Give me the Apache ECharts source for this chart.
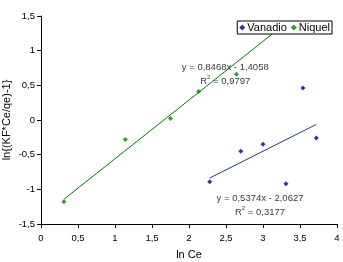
<!DOCTYPE html>
<html>
<head>
<meta charset="utf-8">
<script src="https://cdn.jsdelivr.net/npm/echarts@6/dist/echarts.min.js"></script>
<style>
  html, body { margin: 0; padding: 0; background: #fff; }
  #chart { width: 343px; height: 262px; }
</style>
</head>
<body>
<div id="chart"></div>
<script>
// data
var vanadioX = [2.28, 2.70, 3.00, 3.31, 3.54, 3.72];
var vanadioY = [-0.89, -0.45, -0.35, -0.92, 0.46, -0.26];
var niquelX = [0.31, 1.14, 1.75, 2.13, 2.64];
var niquelY = [-1.18, -0.28, 0.02, 0.41, 0.66];

// trendline equations as printed on the chart: [slope, intercept, r2, xStart, xEnd]
var vanadioFit = [0.5374, -2.0627, 0.3177, 2.28, 3.72];
var niquelFit = [0.8468, -1.4058, 0.9797, 0.31, 3.2];

var xTicks = [0, 4, 0.5];
var yTicks = [-1.5, 1.5, 0.5];

function pairs(xs, ys) {
  var out = [];
  for (var i = 0; i < xs.length; i++) out.push([xs[i], ys[i]]);
  return out;
}
function fitLine(f) {
  return [[f[3], f[0] * f[3] + f[1]], [f[4], f[0] * f[4] + f[1]]];
}
function comma(v) {
  return String(v).replace('.', ',');
}
function eqText(f) {
  var s = f[1] < 0 ? ' - ' : ' + ';
  return 'y = ' + comma(f[0].toFixed(4)) + 'x' + s + comma(Math.abs(f[1]).toFixed(4)) +
    '\n{r|R}{s|2}{r| = ' + comma(f[2].toFixed(4)) + '}';
}

var font = 'Liberation Sans, Arial, sans-serif';
var eqStyle = {
  show: true,
  fontFamily: font,
  fontSize: 9.5,
  color: '#000',
  lineHeight: 14,
  align: 'center',
  rich: {
    r: { fontFamily: font, fontSize: 9.5, color: '#000' },
    s: { fontFamily: font, fontSize: 6, color: '#000', verticalAlign: 'top', padding: [0, 0, 5, 0] }
  }
};

var myChart = echarts.init(document.getElementById('chart'));

var option = {
  backgroundColor: '#fff',
  animation: false,
  grid: { left: 41, right: 6, top: 16, bottom: 38, outerBoundsMode: 'none', containLabel: false },
  legend: {
    data: ['Vanadio', 'Niquel'],
    right: 11,
    top: 21,
    orient: 'horizontal',
    itemWidth: 6,
    itemHeight: 6,
    itemGap: 4,
    padding: [1, 2, 1, 2],
    borderColor: '#000',
    borderWidth: 1,
    backgroundColor: '#fff',
    z: 10,
    textStyle: { fontFamily: font, fontSize: 11, color: '#000', padding: [0, 0, 0, -3] }
  },
  xAxis: {
    type: 'value',
    min: xTicks[0],
    max: xTicks[1],
    interval: xTicks[2],
    name: 'ln Ce',
    nameLocation: 'middle',
    nameGap: 25,
    nameMoveOverlap: false,
    nameTextStyle: { fontFamily: font, fontSize: 11, color: '#000' },
    axisLine: { onZero: false, lineStyle: { color: '#000', width: 1 } },
    axisTick: { show: true, length: 4, lineStyle: { color: '#000' } },
    axisLabel: { fontFamily: font, fontSize: 9.5, color: '#000', margin: 9, formatter: comma },
    splitLine: { show: false }
  },
  yAxis: {
    type: 'value',
    min: yTicks[0],
    max: yTicks[1],
    interval: yTicks[2],
    name: 'ln{(KF*Ce/qe)-1}',
    nameLocation: 'middle',
    nameGap: 29,
    nameMoveOverlap: false,
    nameTextStyle: { fontFamily: font, fontSize: 11, color: '#000' },
    axisLine: { show: true, onZero: false, lineStyle: { color: '#000', width: 1 } },
    axisTick: { show: true, length: 4, lineStyle: { color: '#000' } },
    axisLabel: { fontFamily: font, fontSize: 9.5, color: '#000', margin: 6, formatter: comma },
    splitLine: { show: false }
  },
  series: [
    {
      name: 'Vanadio',
      type: 'scatter',
      symbol: 'diamond',
      symbolSize: 5,
      itemStyle: { color: '#000080' },
      data: pairs(vanadioX, vanadioY),
      z: 5
    },
    {
      name: 'Niquel',
      type: 'scatter',
      symbol: 'diamond',
      symbolSize: 5,
      itemStyle: { color: '#008000' },
      data: pairs(niquelX, niquelY),
      z: 5
    },
    {
      name: 'Vanadio fit',
      type: 'line',
      showSymbol: false,
      silent: true,
      lineStyle: { color: '#1a3f8a', width: 1 },
      data: fitLine(vanadioFit),
      z: 3
    },
    {
      name: 'Niquel fit',
      type: 'line',
      showSymbol: false,
      silent: true,
      lineStyle: { color: '#008000', width: 1 },
      data: fitLine(niquelFit),
      z: 3
    },
    {
      name: 'eq',
      type: 'scatter',
      symbolSize: 0,
      silent: true,
      z: 6,
      label: Object.assign({}, eqStyle, { position: 'inside', formatter: function (p) { return p.data.t; } }),
      data: [
        { value: [2.49, 0.66], t: eqText(niquelFit) },
        { value: [2.96, -1.23], t: eqText(vanadioFit) }
      ]
    }
  ]
};

myChart.setOption(option);

window.addEventListener('resize', function () {
  myChart.resize();
});
</script>
</body>
</html>
